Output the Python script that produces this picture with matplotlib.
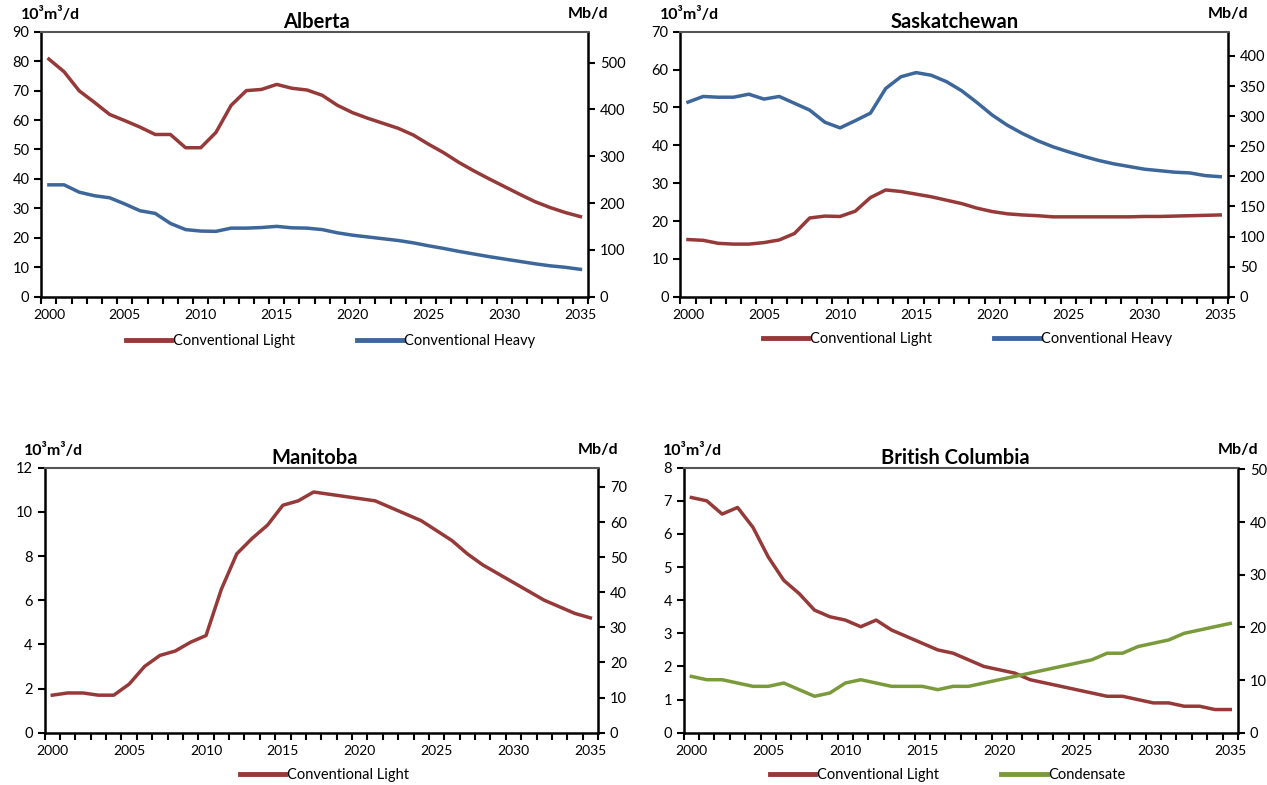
import numpy as np
import matplotlib
matplotlib.use("Agg")
import matplotlib.pyplot as plt

plt.rcParams['font.family'] = ['Lato', 'DejaVu Sans']

years = list(range(2000, 2036))

alberta_light = [80.7, 76.4, 69.9, 66.0, 61.9, 59.8, 57.6, 55.1, 55.1, 50.6, 50.6, 55.8,
                 65.0, 70.0, 70.4, 72.1, 70.8, 70.2, 68.4, 65.0, 62.5, 60.6, 58.9, 57.2,
                 54.9, 51.8, 48.9, 45.6, 42.7, 40.0, 37.4, 34.8, 32.3, 30.3, 28.6, 27.2]
alberta_heavy = [38.0, 38.0, 35.5, 34.3, 33.6, 31.5, 29.2, 28.3, 24.9, 22.8, 22.3, 22.2,
                 23.3, 23.3, 23.5, 23.9, 23.4, 23.3, 22.8, 21.7, 20.9, 20.3, 19.7, 19.1,
                 18.3, 17.3, 16.4, 15.4, 14.5, 13.6, 12.8, 12.0, 11.2, 10.5, 10.0, 9.3]

sask_light = [15.1, 14.9, 14.1, 13.9, 13.9, 14.3, 15.0, 16.7, 20.8, 21.3, 21.2, 22.6,
              26.2, 28.2, 27.8, 27.1, 26.4, 25.5, 24.6, 23.4, 22.5, 21.9, 21.6, 21.4,
              21.1, 21.1, 21.1, 21.1, 21.1, 21.1, 21.2, 21.2, 21.3, 21.4, 21.5, 21.6]
sask_heavy = [51.4, 52.9, 52.7, 52.7, 53.5, 52.2, 52.9, 51.1, 49.3, 46.1, 44.6, 46.5,
              48.5, 55.0, 58.1, 59.2, 58.5, 56.8, 54.4, 51.3, 48.0, 45.3, 43.1, 41.2,
              39.6, 38.3, 37.1, 36.0, 35.1, 34.4, 33.7, 33.3, 32.9, 32.7, 32.0, 31.7]

manitoba_light = [1.7, 1.8, 1.8, 1.7, 1.7, 2.2, 3.0, 3.5, 3.7, 4.1, 4.4, 6.5,
                  8.1, 8.8, 9.4, 10.3, 10.5, 10.9, 10.8, 10.7, 10.6, 10.5, 10.2, 9.9,
                  9.6, 9.15, 8.7, 8.1, 7.6, 7.2, 6.8, 6.4, 6.0, 5.7, 5.4, 5.2]

bc_light = [7.1, 7.0, 6.6, 6.8, 6.2, 5.3, 4.6, 4.2, 3.7, 3.5, 3.4, 3.2,
            3.4, 3.1, 2.9, 2.7, 2.5, 2.4, 2.2, 2.0, 1.9, 1.8, 1.6, 1.5,
            1.4, 1.3, 1.2, 1.1, 1.1, 1.0, 0.9, 0.9, 0.8, 0.8, 0.7, 0.7]
bc_condensate = [1.7, 1.6, 1.6, 1.5, 1.4, 1.4, 1.5, 1.3, 1.1, 1.2, 1.5, 1.6,
                 1.5, 1.4, 1.4, 1.4, 1.3, 1.4, 1.4, 1.5, 1.6, 1.7, 1.8, 1.9,
                 2.0, 2.1, 2.2, 2.4, 2.4, 2.6, 2.7, 2.8, 3.0, 3.1, 3.2, 3.3]

M3_TO_BBL = 6.29
RED = '#953a38'
BLUE = '#3d679a'
GREEN = '#7a9a3c'

W, H = 1267, 785


def px(x, y):
    # pixel position -> figure fraction
    return x / W, 1 - y / H


def panel(fig, rect, title, series, ymax, ystep, rstep, rmax_tick,
          title_x, units_y, leg_xy, leg_spacing):
    ax = fig.add_axes(rect)
    for vals, color, label in series:
        ax.plot(years, vals, color=color, lw=2.5, label=label, solid_joinstyle='round')
    ax.set_xlim(1999.5, 2035.5)
    ax.set_ylim(0, ymax)
    ax.set_yticks(np.arange(0, ymax + 0.01, ystep))
    ax.set_xticks(years[::5])
    ax.set_xticks(np.arange(1999.5, 2036, 1), minor=True)
    ax.tick_params(axis='x', which='major', length=0, pad=9, labelsize=10)
    ax.tick_params(axis='x', which='minor', length=5, width=1.5, direction='out')
    ax.tick_params(axis='y', length=5, width=1.5, labelsize=10.5)
    for s in ['left', 'bottom', 'right']:
        ax.spines[s].set_linewidth(1.8)
        ax.spines[s].set_color('black')
    ax.spines['top'].set_color('#555555')
    ax.spines['top'].set_linewidth(1.5)

    ax2 = ax.twinx()
    ax2.set_ylim(0, ymax * M3_TO_BBL)
    ax2.set_yticks(np.arange(0, rmax_tick + 0.01, rstep))
    ax2.tick_params(axis='y', length=5, width=1.5, labelsize=10.5)
    for s in ['left', 'bottom', 'right', 'top']:
        ax2.spines[s].set_visible(False)

    x0, y0, w, h = rect
    fig.text(*px(title_x, units_y + 7), title, ha='center', va='center',
             fontsize=14.5, fontweight='bold')
    fig.text(x0 - 0.016, y0 + h + 0.022, '10³m³/d', ha='left', va='center',
             fontsize=11.5, fontweight='bold')
    fig.text(x0 + w + 0.016, y0 + h + 0.022, 'Mb/d', ha='right', va='center',
             fontsize=11.5, fontweight='bold')

    leg = ax.legend(loc='center left', bbox_to_anchor=px(*leg_xy),
                    bbox_transform=fig.transFigure, ncol=2, frameon=False,
                    handlelength=3.1, handletextpad=0.1, columnspacing=leg_spacing,
                    borderpad=0, borderaxespad=0, fontsize=10.5)
    for line in leg.get_lines():
        line.set_linewidth(3.5)
    return ax


fig = plt.figure(figsize=(12.67, 7.85), dpi=100)

panel(fig, [0.0326, 0.622, 0.4315, 0.3376], 'Alberta',
      [(alberta_light, RED, 'Conventional Light'),
       (alberta_heavy, BLUE, 'Conventional Heavy')],
      90, 10, 100, 500, 316, 15, (126, 341), 4.3)

panel(fig, [0.537, 0.622, 0.4321, 0.3376], 'Saskatchewan',
      [(sask_light, RED, 'Conventional Light'),
       (sask_heavy, BLUE, 'Conventional Heavy')],
      70, 10, 50, 400, 955, 15, (763, 339), 4.3)

panel(fig, [0.0352, 0.0666, 0.4368, 0.3376], 'Manitoba',
      [(manitoba_light, RED, 'Conventional Light')],
      12, 2, 10, 70, 315, 451, (240, 775), 4.3)

panel(fig, [0.5396, 0.0666, 0.4375, 0.3376], 'British Columbia',
      [(bc_light, RED, 'Conventional Light'),
       (bc_condensate, GREEN, 'Condensate')],
      8, 1, 10, 50, 955, 451, (770, 775), 4.3)

fig.savefig('out.png', dpi=100)
